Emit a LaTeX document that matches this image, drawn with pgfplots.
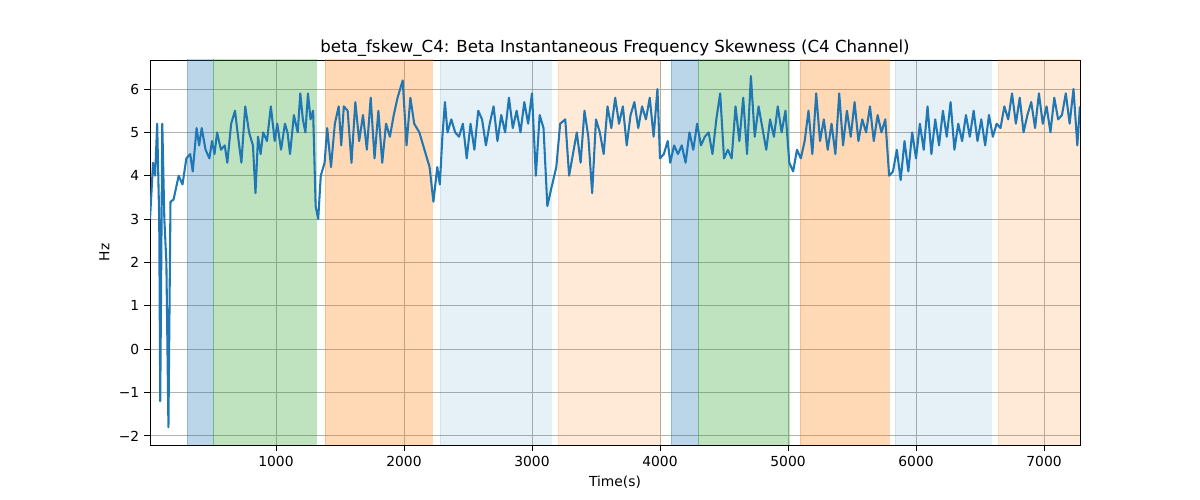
\documentclass[border=0pt]{standalone}
\usepackage{pgfplots}
\pgfplotsset{compat=1.18}
\usepackage{fontspec}
\setmainfont{DejaVu Sans}
\definecolor{tb}{HTML}{1F77B4}
\definecolor{tg}{HTML}{2CA02C}
\definecolor{to}{HTML}{FF7F0E}
\begin{document}
\begin{tikzpicture}
\useasboundingbox (0,0) rectangle (12in,5in);
\begin{axis}[at={(1.5in,0.55in)},anchor=south west,scale only axis,
width=9.3in,height=3.85in,xmin=16,xmax=7281,ymin=-2.21,ymax=6.67,
xtick={1000,2000,3000,4000,5000,6000,7000},ytick={-2,-1,0,1,2,3,4,5,6},
yticklabels={−2,−1,0,1,2,3,4,5,6},
grid=major,grid style={color=black!31,line width=0.6pt},
tick style={black,line width=0.6pt},tick align=outside,
xtick pos=bottom,ytick pos=left,
/pgf/number format/assume math mode=true,
/pgf/number format/set thousands separator={},
ticklabel style={font=\fontsize{10}{12}\selectfont},
xlabel={Time(s)},ylabel={Hz},label style={font=\fontsize{10}{12}\selectfont},
title={beta\_fskew\_C4: Beta Instantaneous Frequency Skewness (C4 Channel)},
title style={font=\fontsize{12}{14}\selectfont,yshift=-7pt},
axis line style={black,line width=0.6pt}]
\def\span#1#2#3#4{\addplot[fill=#3,fill opacity=#4,draw=#3,draw opacity=#4] coordinates {(#1,-3)(#2,-3)(#2,8)(#1,8)} --cycle;}
\span{305}{508}{tb}{0.3}
\span{508}{1313}{tg}{0.3}
\span{1383}{2219}{to}{0.3}
\span{2281}{3148}{tb}{0.11}
\span{3203}{4000}{to}{0.16}
\span{4086}{4297}{tb}{0.3}
\span{4297}{5008}{tg}{0.3}
\span{5094}{5789}{to}{0.3}
\span{5836}{6586}{tb}{0.11}
\span{6641}{7281}{to}{0.16}
\addplot[tb,line width=1.5pt,line join=round] coordinates {
(16,3.0)(40,4.3)(56,4.0)(72,5.2)(88,3.0)(96,-1.2)(112,5.2)(128,3.0)(144,2.0)(160,-1.8)(176,3.4)(200,3.45)(240,4.0)(270,3.8)(300,4.4)(330,4.5)(350,4.1)(380,5.1)(400,4.7)(420,5.1)(450,4.6)(480,4.4)(500,4.8)(520,4.5)(540,5.0)(570,4.6)(600,4.7)(620,4.3)(650,5.2)(680,5.5)(700,5.0)(730,4.3)(760,5.6)(790,5.0)(820,4.7)(840,3.6)(860,4.9)(880,4.5)(900,5.0)(930,4.8)(960,5.6)(990,4.8)(1010,5.2)(1040,4.6)(1070,5.2)(1090,5.0)(1110,4.5)(1140,5.4)(1170,5.0)(1190,5.9)(1210,5.3)(1230,5.0)(1250,5.9)(1270,5.3)(1290,5.5)(1310,3.3)(1330,3.0)(1350,4.0)(1380,4.3)(1400,5.1)(1430,4.2)(1460,5.2)(1490,5.6)(1510,4.7)(1530,5.6)(1560,5.5)(1590,4.3)(1620,5.7)(1650,4.8)(1680,5.4)(1710,4.6)(1740,5.8)(1770,4.4)(1800,5.5)(1830,4.3)(1860,5.2)(1890,4.9)(1920,5.4)(1950,5.8)(1990,6.2)(2020,4.7)(2050,5.8)(2080,5.2)(2120,5.0)(2160,4.6)(2200,4.2)(2230,3.4)(2260,4.2)(2280,3.8)(2300,4.9)(2320,5.7)(2340,5.0)(2370,5.3)(2400,5.0)(2430,4.9)(2460,5.2)(2490,4.4)(2520,5.2)(2550,4.6)(2580,5.5)(2610,5.3)(2640,4.7)(2670,5.2)(2700,5.6)(2730,4.8)(2760,5.4)(2790,5.0)(2820,5.8)(2850,5.1)(2880,5.5)(2910,5.0)(2940,5.7)(2970,5.2)(3000,5.9)(3030,4.0)(3060,5.4)(3090,5.1)(3120,3.3)(3150,3.7)(3190,4.2)(3220,5.2)(3260,5.3)(3290,4.0)(3320,4.5)(3350,5.0)(3380,4.3)(3410,5.5)(3440,4.9)(3470,3.6)(3500,5.3)(3530,5.0)(3560,4.5)(3590,5.6)(3620,5.1)(3650,5.8)(3680,5.2)(3710,5.6)(3740,4.7)(3770,5.4)(3800,5.7)(3830,5.1)(3860,5.6)(3890,5.3)(3920,5.8)(3950,4.9)(3980,6.0)(4000,4.4)(4030,4.5)(4060,4.8)(4080,4.3)(4110,4.7)(4140,4.5)(4170,4.7)(4200,4.3)(4230,5.0)(4260,4.6)(4290,5.2)(4320,4.7)(4350,4.9)(4380,5.0)(4410,4.5)(4440,5.3)(4470,5.9)(4500,4.4)(4530,4.6)(4560,4.4)(4590,5.6)(4620,4.8)(4650,5.8)(4680,4.5)(4710,6.3)(4740,4.9)(4770,5.6)(4800,5.1)(4830,4.6)(4860,5.3)(4890,4.9)(4920,5.6)(4950,5.0)(4980,5.5)(5010,4.3)(5040,4.1)(5070,4.6)(5100,4.4)(5130,4.8)(5160,5.5)(5190,4.5)(5220,5.9)(5250,4.8)(5280,5.3)(5310,4.6)(5340,5.2)(5370,4.5)(5400,5.9)(5430,4.7)(5460,5.5)(5490,4.9)(5520,5.7)(5550,4.8)(5580,5.3)(5610,5.0)(5640,5.6)(5670,4.8)(5700,5.4)(5730,5.0)(5760,5.3)(5790,4.0)(5820,4.1)(5850,4.6)(5880,3.9)(5910,4.8)(5940,4.1)(5970,5.0)(6000,4.4)(6030,5.2)(6060,4.6)(6090,5.6)(6120,4.5)(6150,5.3)(6180,4.7)(6210,5.5)(6240,4.9)(6270,5.7)(6300,4.6)(6330,5.2)(6360,4.8)(6390,5.4)(6420,4.9)(6450,5.5)(6480,4.8)(6510,5.3)(6540,4.7)(6570,5.4)(6600,4.9)(6630,5.2)(6660,5.1)(6690,5.6)(6720,5.3)(6750,5.9)(6780,5.2)(6810,5.8)(6840,5.0)(6870,5.4)(6900,5.7)(6930,5.1)(6960,5.9)(6990,5.2)(7020,5.6)(7050,5.0)(7080,5.8)(7110,5.3)(7140,5.4)(7170,5.9)(7200,5.2)(7230,6.0)(7260,4.7)(7280,5.6)};
\end{axis}
\end{tikzpicture}
\end{document}
